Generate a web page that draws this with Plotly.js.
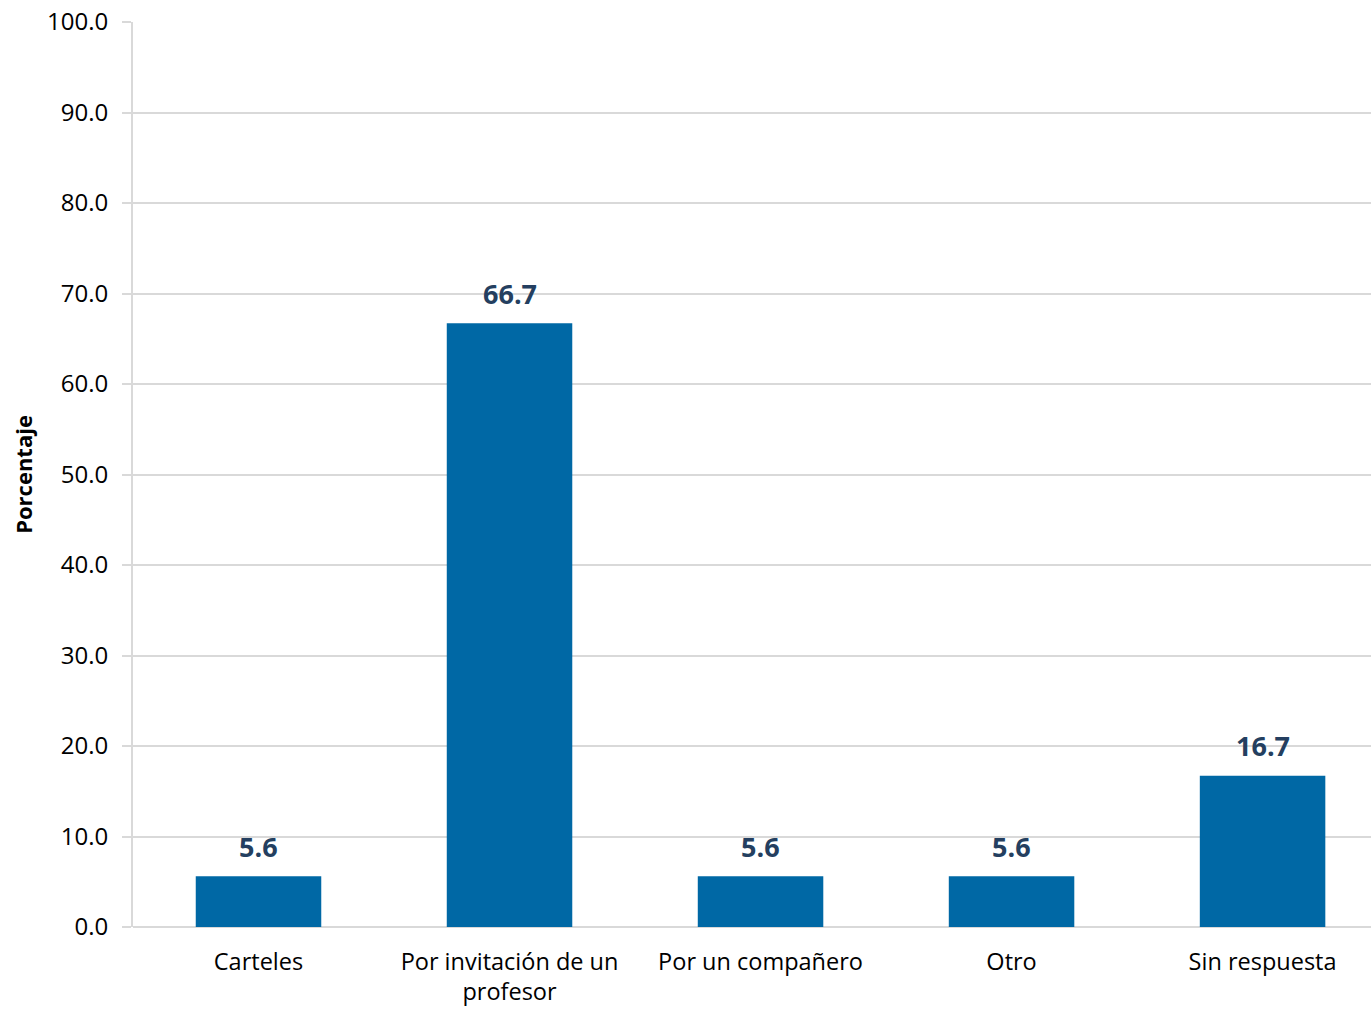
<!DOCTYPE html>
<html>
<head>
<meta charset="utf-8">
<script src="https://cdn.plot.ly/plotly-3.0.1.min.js"></script>
<style>html,body{margin:0;padding:0;background:#fff;overflow:hidden}#chart{width:1371px;height:1009px}</style>
</head>
<body>
<div id="chart"></div>
<script>
const categories = ["Carteles", "Por invitación de un<br>profesor", "Por un compañero", "Otro", "Sin respuesta"];
const values = [5.6, 66.7, 5.6, 5.6, 16.7];
const valueLabels = ["5.6", "66.7", "5.6", "5.6", "16.7"];
const yTickVals = [0, 10, 20, 30, 40, 50, 60, 70, 80, 90, 100];
const yTickText = ["0.0", "10.0", "20.0", "30.0", "40.0", "50.0", "60.0", "70.0", "80.0", "90.0", "100.0"];
const yTitle = "Porcentaje";

const FONT = "Open Sans, Noto Sans, sans-serif";
const xIdx = categories.map((c, i) => i);

const trace = {
  type: "bar",
  x: xIdx,
  y: values,
  width: 0.5,
  marker: {color: "#0068a5", line: {width: 0}},
  hoverinfo: "none"
};

const annotations = values.map((v, i) => ({
  x: xIdx[i], y: v, xref: "x", yref: "y",
  text: "<b>" + valueLabels[i] + "</b>",
  showarrow: false, yanchor: "middle", yshift: 30,
  font: {family: FONT, size: 27, color: "#243f60"}
}));

const layout = {
  width: 1371, height: 1009,
  margin: {l: 133, r: 0, t: 22, b: 82},
  paper_bgcolor: "#fff", plot_bgcolor: "#fff",
  showlegend: false,
  font: {family: FONT, size: 24, color: "#000"},
  xaxis: {
    range: [-0.5, 4.432],
    tickvals: xIdx, ticktext: categories,
    showgrid: false, zeroline: false, showline: false,
    ticks: "", ticklabelstandoff: 18,
    tickfont: {family: FONT, size: 23.5, color: "#000"},
    fixedrange: true
  },
  yaxis: {
    range: [0, 100],
    tickvals: yTickVals, ticktext: yTickText,
    showgrid: true, gridcolor: "#d9d9d9", gridwidth: 2,
    zeroline: true, zerolinecolor: "#d9d9d9", zerolinewidth: 2,
    showline: true, linecolor: "#d9d9d9", linewidth: 2,
    ticks: "outside", ticklen: 9, tickcolor: "#d9d9d9", tickwidth: 2,
    ticklabelstandoff: 9,
    tickfont: {family: FONT, size: 24, color: "#000"},
    title: {text: "<b>" + yTitle + "</b>", font: {family: FONT, size: 22, color: "#000"}, standoff: 8},
    fixedrange: true
  },
  annotations: annotations
};

Plotly.newPlot("chart", [trace], layout, {displayModeBar: false, staticPlot: true});
</script>
</body>
</html>
